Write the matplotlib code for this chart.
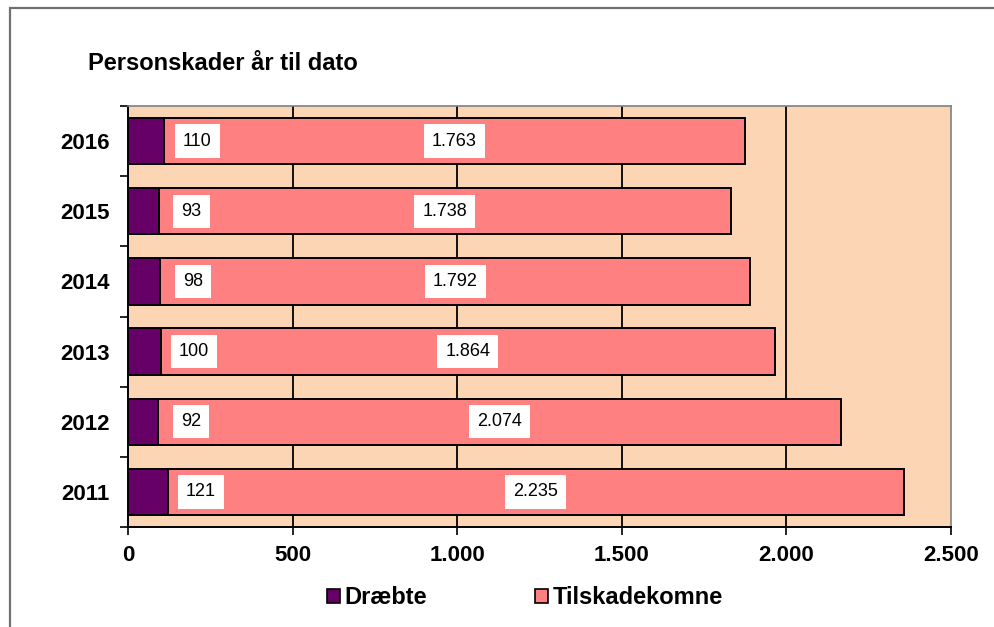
import matplotlib
matplotlib.use("Agg")
import matplotlib.pyplot as plt
from matplotlib.patches import Rectangle, Patch

years = ["2011", "2012", "2013", "2014", "2015", "2016"]
draebte = [121, 92, 100, 98, 93, 110]
tilskade = [2235, 2074, 1864, 1792, 1738, 1763]
xticks = [0, 500, 1000, 1500, 2000, 2500]
xticklabels = ["0", "500", "1.000", "1.500", "2.000", "2.500"]
title = "Personskader år til dato"

PURPLE = "#660066"
PINK = "#FF8080"
BG = "#FCD5B4"

plt.rcParams['font.family'] = ['Liberation Sans', 'DejaVu Sans']

fig = plt.figure(figsize=(9.95, 6.27), dpi=100)
ax = fig.add_axes([128/995, 1-527/627, (951-128)/995, (527-106)/627])
ax.set_facecolor(BG)

# outer frame
fig.patches.append(Rectangle((10/995, -0.1), 1.2, (1-8/627)+0.1, transform=fig.transFigure,
                             fill=False, edgecolor="#707070", linewidth=1.6))

y = list(range(len(years)))
h = 0.66
ax.barh(y, draebte, height=h, color=PURPLE, edgecolor="black", linewidth=1.4, zorder=3, label="Dræbte")
ax.barh(y, tilskade, left=draebte, height=h, color=PINK, edgecolor="black", linewidth=1.4, zorder=3,
        label="Tilskadekomne")

def fmt(v):
    return f"{v:,}".replace(",", ".")

box = dict(boxstyle="square,pad=0.45", facecolor="white", edgecolor="none")
for i, (d, t) in enumerate(zip(draebte, tilskade)):
    ax.text(d + 100, i, fmt(d), ha="center", va="center", fontsize=13, bbox=box, zorder=5)
    ax.text(d + t / 2, i, fmt(t), ha="center", va="center", fontsize=13, bbox=box, zorder=5)

ax.set_xlim(0, 2500)
ax.set_ylim(-0.5, len(years) - 0.5)
ax.set_xticks(xticks)
ax.set_xticklabels(xticklabels, fontsize=16, fontweight="bold")
ax.set_yticks(y)
ax.set_yticklabels(years, fontsize=16, fontweight="bold")
ax.set_yticks([i - 0.5 for i in range(len(years) + 1)], minor=True)
ax.tick_params(axis="y", which="major", length=0, pad=13)
ax.tick_params(axis="y", which="minor", length=6, width=1.2, direction="out")
ax.tick_params(axis="x", length=6, width=1.2, direction="out", pad=7)

for xv in xticks[1:-1]:
    ax.axvline(xv, color="black", linewidth=1.3, zorder=1)

ax.spines["left"].set_color("black")
ax.spines["left"].set_linewidth(1.4)
ax.spines["bottom"].set_color("black")
ax.spines["bottom"].set_linewidth(1.4)
ax.spines["top"].set_color("#808080")
ax.spines["right"].set_color("#808080")
ax.spines["top"].set_linewidth(1.2)
ax.spines["right"].set_linewidth(1.2)

fig.text(88/995, 1-63/627, title, fontsize=17, fontweight="bold", ha="left", va="center")

handles = [Patch(facecolor=PURPLE, edgecolor="black", linewidth=1.2),
           Patch(facecolor=PINK, edgecolor="black", linewidth=1.2)]
fig.legend(handles, ["Dræbte", "Tilskadekomne"], loc="center", bbox_to_anchor=(525/995, 1-598/627),
           ncol=2, frameon=False, prop=dict(size=17, weight="bold"), handlelength=0.55, handleheight=0.55,
           handletextpad=0.2, columnspacing=4.6)

fig.savefig("out.png", dpi=100)
